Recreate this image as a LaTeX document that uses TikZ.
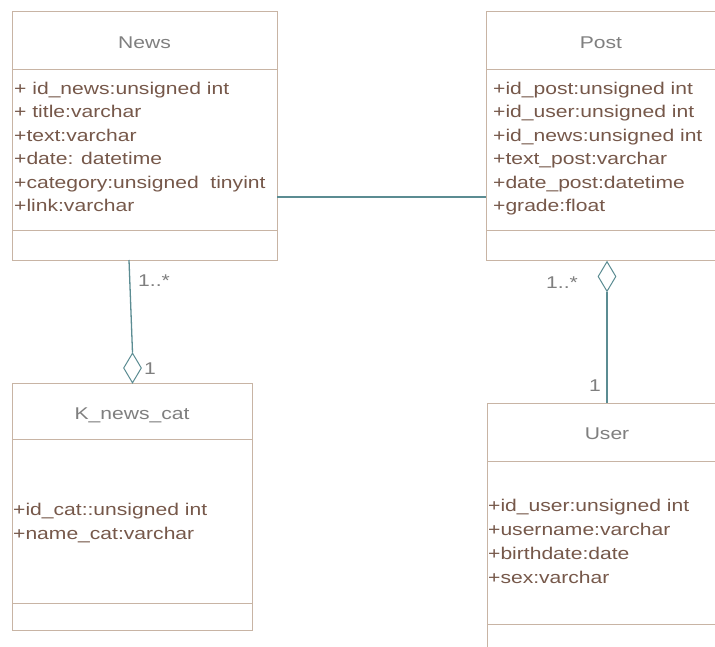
\documentclass[tikz,border=0pt]{standalone}
\usepackage{fontspec}
\setmainfont{Liberation Sans}[FakeStretch=1.24]
\usetikzlibrary{shapes.geometric}
\definecolor{boxc}{HTML}{C8B4A4}
\definecolor{linkc}{HTML}{5B8C92}
\definecolor{attrc}{HTML}{76584A}
\definecolor{titlec}{HTML}{7F7F7F}
\begin{document}
\begin{tikzpicture}[x=1pt,y=-1pt,
  umlbox/.style={draw=boxc, line width=1pt, anchor=north west, inner sep=0pt},
  sepline/.style={draw=boxc, line width=1pt},
  attr/.style={anchor=base west, inner sep=0pt, text=attrc, font=\fontsize{17}{20}\selectfont},
  ttl/.style={anchor=base, inner sep=0pt, text=titlec, font=\fontsize{17}{20}\selectfont},
  mult/.style={anchor=base west, inner sep=0pt, text=titlec, font=\fontsize{17}{20}\selectfont},
  link/.style={draw=linkc, line width=1.3pt},
  agg/.style={diamond, draw=linkc, line width=1pt, fill=white, minimum width=18pt, minimum height=30pt, inner sep=0pt}]
\useasboundingbox (0,0) rectangle (715,646);
\clip (0,0) rectangle (715,646);
\fill[white] (0,0) rectangle (715,646);

% News
\node (news) [umlbox, minimum width=265pt, minimum height=249pt] at (12,11) {};
\draw[sepline] (12,69) -- (277,69);
\draw[sepline] (12,230) -- (277,230);
\node (newsT) [ttl] at (144.5,48) {News};
\node (n1) [attr] at (14,94) {+ id\_news:unsigned int};
\node (n2) [attr] at (14,117.5) {+ title:varchar};
\node (n3) [attr] at (14,141) {+text:varchar};
\node (n4) [attr] at (14,164.5) {+date: datetime};
\node (n5) [attr] at (14,188) {+category:unsigned\ \ tinyint};
\node (n6) [attr] at (14,211.5) {+link:varchar};

% Post
\node (post) [umlbox, minimum width=232pt, minimum height=249pt] at (486,11) {};
\draw[sepline] (486,69) -- (718,69);
\draw[sepline] (486,230) -- (718,230);
\node (postT) [ttl] at (601,48) {Post};
\node (p1) [attr] at (493,94) {+id\_post:unsigned int};
\node (p2) [attr] at (493,117.5) {+id\_user:unsigned int};
\node (p3) [attr] at (493,141) {+id\_news:unsigned int};
\node (p4) [attr] at (493,164.5) {+text\_post:varchar};
\node (p5) [attr] at (493,188) {+date\_post:datetime};
\node (p6) [attr] at (493,211.5) {+grade:float};

% K_news_cat
\node (kcat) [umlbox, minimum width=240pt, minimum height=247pt] at (12,383) {};
\draw[sepline] (12,439) -- (252,439);
\draw[sepline] (12,603) -- (252,603);
\node (kcatT) [ttl] at (132,419) {K\_news\_cat};
\node (k1) [attr] at (13,515) {+id\_cat::unsigned int};
\node (k2) [attr] at (13,539) {+name\_cat:varchar};

% User
\node (user) [umlbox, minimum width=240pt, minimum height=260pt] at (487,403) {};
\draw[sepline] (487,461) -- (727,461);
\draw[sepline] (487,624) -- (727,624);
\node (userT) [ttl] at (607,439) {User};
\node (u1) [attr] at (488,511) {+id\_user:unsigned int};
\node (u2) [attr] at (488,535) {+username:varchar};
\node (u3) [attr] at (488,559) {+birthdate:date};
\node (u4) [attr] at (488,583) {+sex:varchar};

% News -- Post
\coordinate (np) at (277,197);
\draw[link] (np) -- (np -| post.west);

% News -- K_news_cat
\coordinate (nb) at (129,260);
\node (d1) [agg] at (132.5,368) {};
\draw[link] (nb) -- (d1.north);
\node (m1) [mult] at (138,286) {1..*};
\node (m2) [mult] at (144,374) {1};

% Post -- User
\node (d2) [agg] at (607,276.5) {};
\draw[link] (d2.south) -- (d2.south |- user.north);
\node (m3) [mult] at (546,288) {1..*};
\node (m4) [mult] at (589,391) {1};
\end{tikzpicture}
\end{document}
